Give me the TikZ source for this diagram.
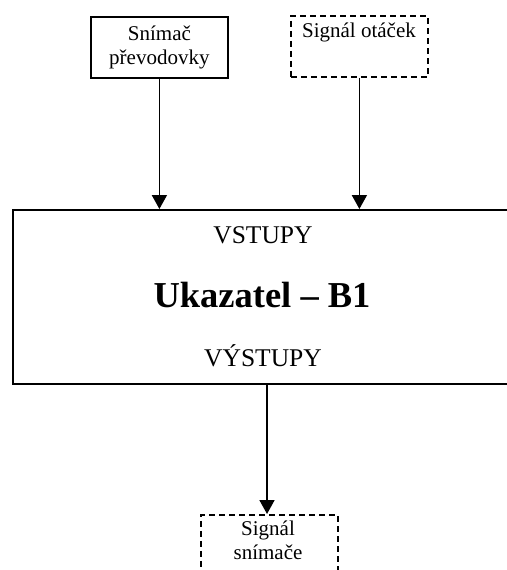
\documentclass[tikz,border=0pt]{standalone}
\usepackage{fontspec}
\setmainfont{Liberation Serif}
\usetikzlibrary{arrows.meta}
\begin{document}
\begin{tikzpicture}[x=1pt,y=-1pt,
  solidbox/.style={draw,line width=1.8pt,inner sep=0pt},
  dashbox/.style={draw,line width=1.8pt,dash pattern=on 6pt off 4pt,inner sep=0pt},
  conn/.style={line width=1.8pt,-{Triangle[length=14pt,width=15pt]}},
  smalltext/.style={font=\fontsize{21}{24}\selectfont,align=center,inner sep=0pt},
  midtext/.style={font=\fontsize{25.5}{30}\selectfont,inner sep=0pt,anchor=base},
  bigtext/.style={font=\fontsize{36.5}{42}\selectfont\bfseries,inner sep=0pt,anchor=base},
]
\useasboundingbox (0,0) rectangle (506,570);
% top-left input box
\node[solidbox,smalltext,anchor=north west,minimum width=137pt,minimum height=61pt] (snim) at (90,16) {Snímač\\převodovky};
% top-right dashed input box
\node[dashbox,anchor=north west,minimum width=137pt,minimum height=61pt] (otac) at (290,15) {};
\node[smalltext,anchor=base] (otact) at (359,37.3) {Signál otáček};
% main block
\node[solidbox,anchor=north west,minimum width=502pt,minimum height=174pt] (main) at (12,209) {};
\node[midtext] (vst) at (263,243) {VSTUPY};
\node[bigtext] (title) at (262,307) {Ukazatel – B1};
\node[midtext] (vyst) at (263,366) {VÝSTUPY};
% bottom dashed output box (open at bottom)
\node[dashbox,anchor=north west,minimum width=137pt,minimum height=80pt] (outb) at (200,514) {};
\node[smalltext] (outt) at (268,540) {Signál\\snímače};
% connectors
\draw[conn] (snim.south) -- (snim.south |- main.north);
\draw[conn] (otac.south) -- (otac.south |- main.north);
\coordinate (mo) at (267,383);
\draw[conn] (mo) -- (mo |- outb.north);
\end{tikzpicture}
\end{document}
